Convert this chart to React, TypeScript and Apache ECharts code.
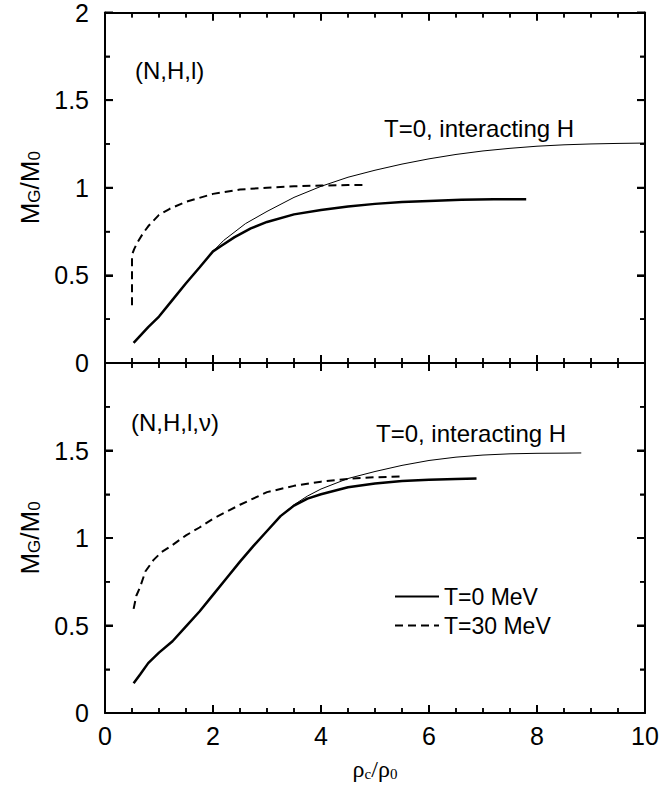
import React, { useEffect, useRef } from "react";
import * as echarts from "echarts";

// ---- data (x = rho_c / rho_0, y = M_G / M_0) ----
// Top panel (N,H,l)
const topT0X = [0.53, 0.8, 1.0, 1.25, 1.5, 1.75, 2.0, 2.15, 2.4, 2.7, 3.0, 3.5, 4.0, 4.5, 5.0, 5.5, 6.0, 6.6, 7.2, 7.8];
const topT0Y = [0.115, 0.205, 0.265, 0.36, 0.455, 0.545, 0.637, 0.668, 0.718, 0.768, 0.805, 0.848, 0.873, 0.893, 0.908, 0.918, 0.925, 0.931, 0.934, 0.935];
const topIntX = [2.0, 2.2, 2.6, 3.0, 3.5, 4.0, 4.5, 5.0, 5.5, 6.0, 6.5, 7.0, 7.5, 8.0, 8.5, 9.0, 9.5, 10.0];
const topIntY = [0.637, 0.7, 0.795, 0.865, 0.945, 1.008, 1.06, 1.1, 1.135, 1.165, 1.19, 1.21, 1.225, 1.237, 1.245, 1.25, 1.253, 1.255];
const topT30X = [0.5, 0.5, 0.51, 0.54, 0.6, 0.7, 0.8, 1.0, 1.2, 1.5, 2.0, 2.5, 3.0, 3.5, 4.0, 4.5, 4.85];
const topT30Y = [0.33, 0.6, 0.625, 0.65, 0.688, 0.738, 0.78, 0.845, 0.88, 0.92, 0.965, 0.99, 1.0, 1.008, 1.013, 1.015, 1.015];

// Bottom panel (N,H,l,nu)
const botT0X = [0.53, 0.65, 0.8, 1.0, 1.25, 1.5, 1.75, 2.0, 2.25, 2.5, 2.75, 3.0, 3.25, 3.5, 3.75, 4.0, 4.5, 5.0, 5.5, 6.0, 6.5, 6.88];
const botT0Y = [0.17, 0.22, 0.285, 0.345, 0.41, 0.495, 0.58, 0.675, 0.77, 0.865, 0.955, 1.04, 1.125, 1.185, 1.225, 1.25, 1.29, 1.312, 1.326, 1.333, 1.337, 1.34];
const botIntX = [3.25, 3.5, 3.75, 4.0, 4.5, 5.0, 5.5, 6.0, 6.5, 7.0, 7.5, 8.0, 8.5, 8.82];
const botIntY = [1.125, 1.19, 1.24, 1.28, 1.34, 1.38, 1.415, 1.443, 1.462, 1.474, 1.481, 1.484, 1.485, 1.486];
const botT30X = [0.53, 0.58, 0.65, 0.75, 0.9, 1.05, 1.25, 1.5, 1.75, 2.0, 2.5, 3.0, 3.5, 4.0, 4.5, 5.0, 5.5];
const botT30Y = [0.595, 0.67, 0.72, 0.81, 0.875, 0.92, 0.96, 1.015, 1.06, 1.11, 1.19, 1.262, 1.298, 1.322, 1.338, 1.347, 1.352];

// axis ticks (major values; minor ticks subdivide them)
const xTicks = [0, 2, 4, 6, 8, 10];
const yTicks = [0, 0.5, 1, 1.5, 2];
const xMinorPerMajor = 4;
const yMinorPerMajor = 2;

const pairs = (xs: number[], ys: number[]) => xs.map((x, i) => [x, ys[i]]);

const FONT = "Liberation Sans";
const BLACK = "#000";

// list of [value, isMajor]
function tickList(ticks: number[], split: number): [number, boolean][] {
  const out: [number, boolean][] = [];
  ticks.forEach((t, i) => {
    out.push([t, true]);
    if (i < ticks.length - 1) {
      const step = (ticks[i + 1] - t) / split;
      for (let k = 1; k < split; k++) out.push([t + k * step, false]);
    }
  });
  return out;
}

export default function App() {
  const ref = useRef<HTMLDivElement>(null);
  useEffect(() => {
    if (!ref.current) return;
    const chart = echarts.init(ref.current, undefined, { renderer: "svg" });

    const xMin = xTicks[0];
    const xMax = xTicks[xTicks.length - 1];
    const yMin = yTicks[0];
    const yMax = yTicks[yTicks.length - 1];

    const axisLine = () => ({ show: true, onZero: false, lineStyle: { color: BLACK, width: 2 } });
    const tick = () => ({ show: true, inside: true, length: 8, lineStyle: { color: BLACK, width: 2 } });
    const minor = (n: number) => ({ show: true, splitNumber: n, length: 5, lineStyle: { color: BLACK, width: 1.5 } });

    const xName = {
      name: "{r|ρ}{s|c}{r|/ρ}{s|0}",
      nameLocation: "middle",
      nameGap: 44,
      nameTextStyle: {
        rich: {
          r: { fontSize: 24, fontFamily: "Liberation Serif", color: BLACK },
          s: { fontSize: 15, fontFamily: "Liberation Serif", color: BLACK, verticalAlign: "bottom" },
        },
      },
    };

    const xA = (g: number, pos: string, labels: boolean, extra: any = {}) => ({
      type: "value",
      gridIndex: g,
      position: pos,
      min: xMin,
      max: xMax,
      interval: 2,
      axisLine: axisLine(),
      axisTick: tick(),
      minorTick: minor(xMinorPerMajor),
      splitLine: { show: false },
      minorSplitLine: { show: false },
      axisLabel: labels ? { show: true, fontSize: 25, fontFamily: FONT, color: BLACK, margin: 10 } : { show: false },
      ...extra,
    });

    const yName = {
      name: "{m|M}{s|G}{m|/M}{s|0}",
      nameLocation: "middle",
      nameRotate: 90,
      nameGap: 62,
      nameTextStyle: {
        rich: {
          m: { fontSize: 26, fontFamily: FONT, color: BLACK },
          s: { fontSize: 17, fontFamily: FONT, color: BLACK, verticalAlign: "bottom" },
        },
      },
    };

    const yA = (g: number, pos: string, labels: boolean, hideMax: boolean, extra: any = {}) => ({
      type: "value",
      gridIndex: g,
      position: pos,
      min: yMin,
      max: yMax,
      interval: 0.5,
      axisLine: axisLine(),
      axisTick: tick(),
      minorTick: minor(yMinorPerMajor),
      splitLine: { show: false },
      minorSplitLine: { show: false },
      axisLabel: labels
        ? { show: true, fontSize: 25, fontFamily: FONT, color: BLACK, margin: 16, showMaxLabel: !hideMax, formatter: (v: number) => String(v) }
        : { show: false },
      ...extra,
    });

    const line = (name: string, data: number[][], xi: number, yi: number, width: number, dashed: boolean) => ({
      type: "line",
      name,
      data,
      xAxisIndex: xi,
      yAxisIndex: yi,
      symbol: "none",
      silent: true,
      lineStyle: { color: BLACK, width, type: dashed ? [8, 5] : "solid" },
    });

    const texts: any[] = [
      { type: "text", x: 135, y: 58, style: { text: "(N,H,l)", fontSize: 24, fontFamily: FONT, fill: BLACK } },
      { type: "text", x: 384, y: 116, style: { text: "T=0, interacting H", fontSize: 24, fontFamily: FONT, fill: BLACK } },
      { type: "text", x: 131, y: 410, style: { text: "(N,H,l,ν)", fontSize: 24, fontFamily: FONT, fill: BLACK } },
      { type: "text", x: 376, y: 421, style: { text: "T=0, interacting H", fontSize: 24, fontFamily: FONT, fill: BLACK } },
    ];

    const option: any = {
      animation: false,
      backgroundColor: "#fff",
      grid: [
        { left: 105, top: 12, width: 540, height: 351 },
        { left: 105, top: 363, width: 540, height: 350 },
      ],
      xAxis: [xA(0, "bottom", false), xA(0, "top", false), xA(1, "bottom", true, xName), xA(1, "top", false)],
      yAxis: [
        yA(0, "left", true, false, yName),
        yA(0, "right", false, false),
        yA(1, "left", true, true, yName),
        yA(1, "right", false, false),
      ],
      legend: {
        data: ["T=0 MeV", "T=30 MeV"],
        orient: "vertical",
        left: 389,
        top: 580,
        itemWidth: 44,
        itemHeight: 14,
        itemGap: 6,
        selectedMode: false,
        itemStyle: { opacity: 0 },
        textStyle: { fontSize: 23, fontFamily: FONT, color: BLACK },
      },
      graphic: texts,
      series: [
        line("T=0 MeV", pairs(topT0X, topT0Y), 0, 0, 2.5, false),
        line("T=0, interacting H (N,H,l)", pairs(topIntX, topIntY), 0, 0, 1, false),
        line("T=30 MeV", pairs(topT30X, topT30Y), 0, 0, 2, true),
        line("T=0 MeV", pairs(botT0X, botT0Y), 2, 2, 2.5, false),
        line("T=0, interacting H (N,H,l,nu)", pairs(botIntX, botIntY), 2, 2, 1, false),
        line("T=30 MeV", pairs(botT30X, botT30Y), 2, 2, 2, true),
      ],
    };
    chart.setOption(option);

    // Fallback tick marks placed through the chart's own scales
    const tickLines: any[] = [];
    const seg = (x1: number, y1: number, x2: number, y2: number, w: number) =>
      tickLines.push({ type: "line", silent: true, z: 10, shape: { x1, y1, x2, y2 }, style: { stroke: BLACK, lineWidth: w } });
    [0, 1].forEach((g) => {
      tickList(xTicks, xMinorPerMajor).forEach(([v, major]) => {
        const len = major ? 8 : 5;
        const w = major ? 2 : 1.5;
        const b = chart.convertToPixel({ gridIndex: g } as any, [v, yMin]) as number[];
        const t = chart.convertToPixel({ gridIndex: g } as any, [v, yMax]) as number[];
        if (b && t) {
          seg(b[0], b[1], b[0], b[1] - len, w);
          seg(t[0], t[1], t[0], t[1] + len, w);
        }
      });
      tickList(yTicks, yMinorPerMajor).forEach(([v, major]) => {
        const len = major ? 8 : 5;
        const w = major ? 2 : 1.5;
        const l = chart.convertToPixel({ gridIndex: g } as any, [xMin, v]) as number[];
        const r = chart.convertToPixel({ gridIndex: g } as any, [xMax, v]) as number[];
        if (l && r) {
          seg(l[0], l[1], l[0] + len, l[1], w);
          seg(r[0], r[1], r[0] - len, r[1], w);
        }
      });
    });
    chart.setOption({ graphic: [...texts, ...tickLines] });

    return () => chart.dispose();
  }, []);
  return <div ref={ref} style={{ position: "fixed", left: 0, top: 0, width: 669, height: 788, background: "#fff" }} />;
}
